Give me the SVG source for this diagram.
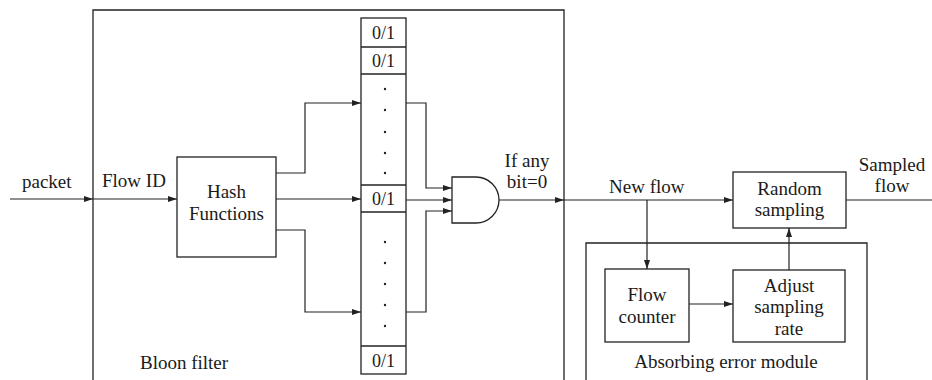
<svg xmlns="http://www.w3.org/2000/svg" width="932" height="380" viewBox="0 0 932 380">
<style>
.b{fill:none;stroke:#222;stroke-width:1.3}
.l{fill:none;stroke:#222;stroke-width:1.2}
text{font-family:"Liberation Serif","Times New Roman",serif;font-size:19px;fill:#1a1a1a}
.c{text-anchor:middle}
.d{fill:#222}
</style>
<defs>
<marker id="a" markerWidth="9" markerHeight="6" refX="9" refY="3" orient="auto" markerUnits="userSpaceOnUse">
<path d="M0,0 L9,3 L0,6 z" fill="#222"/>
</marker>
</defs>
<rect width="932" height="380" fill="#fff"/>

<g id="bloom-filter">
<path class="b" d="M93,380 V10 H564 V380"/>
<text x="140" y="369">Bloon filter</text>
</g>

<g id="hash-functions">
<rect class="b" x="177" y="157" width="99" height="100"/>
<text class="c" x="226.5" y="198">Hash</text>
<text class="c" x="226.5" y="220">Functions</text>
</g>

<g id="bit-array">
<rect class="b" x="361" y="18" width="45" height="356"/>
<line class="b" x1="361" y1="47" x2="406" y2="47"/>
<line class="b" x1="361" y1="74" x2="406" y2="74"/>
<line class="b" x1="361" y1="185" x2="406" y2="185"/>
<line class="b" x1="361" y1="212" x2="406" y2="212"/>
<line class="b" x1="361" y1="346" x2="406" y2="346"/>
<text class="c" x="383.5" y="39" style="font-size:18px">0/1</text>
<text class="c" x="383.5" y="67" style="font-size:18px">0/1</text>
<text class="c" x="383.5" y="205" style="font-size:18px">0/1</text>
<text class="c" x="383.5" y="367" style="font-size:18px">0/1</text>
<circle class="d" cx="385" cy="89" r="1.2"/>
<circle class="d" cx="385" cy="110" r="1.2"/>
<circle class="d" cx="385" cy="132" r="1.2"/>
<circle class="d" cx="385" cy="153" r="1.2"/>
<circle class="d" cx="385" cy="173" r="1.2"/>
<circle class="d" cx="385" cy="242" r="1.2"/>
<circle class="d" cx="385" cy="263" r="1.2"/>
<circle class="d" cx="385" cy="284" r="1.2"/>
<circle class="d" cx="385" cy="305" r="1.2"/>
<circle class="d" cx="385" cy="326" r="1.2"/>
</g>

<g id="and-gate">
<path class="b" d="M452,177 H476 A23,23 0 0 1 476,223 H452 Z"/>
</g>

<g id="random-sampling">
<rect class="b" x="733" y="172" width="113" height="56"/>
<text class="c" x="789.5" y="195">Random</text>
<text class="c" x="789.5" y="216">sampling</text>
</g>

<g id="absorbing-error-module">
<path class="b" d="M586,380 V243 H867 V380"/>
<text class="c" x="726" y="368">Absorbing error module</text>
</g>

<g id="flow-counter">
<rect class="b" x="605" y="269" width="84" height="73"/>
<text class="c" x="647" y="301">Flow</text>
<text class="c" x="647" y="323">counter</text>
</g>

<g id="adjust-sampling-rate">
<rect class="b" x="733" y="270" width="112" height="72"/>
<text class="c" x="789" y="292">Adjust</text>
<text class="c" x="789" y="313">sampling</text>
<text class="c" x="789" y="335">rate</text>
</g>

<g id="labels">
<text x="22" y="188">packet</text>
<text x="102" y="187">Flow ID</text>
<text class="c" x="527" y="167">If any</text>
<text class="c" x="527" y="188">bit=0</text>
<text x="609" y="193">New flow</text>
<text class="c" x="892" y="171">Sampled</text>
<text class="c" x="892" y="192">flow</text>
</g>

<g id="connectors">
<path class="l" d="M10,199 H93" marker-end="url(#a)"/>
<path class="l" d="M93,199 H177" marker-end="url(#a)"/>
<path class="l" d="M276,173 H305 V103 H361" marker-end="url(#a)"/>
<path class="l" d="M276,199 H361" marker-end="url(#a)"/>
<path class="l" d="M276,230 H305 V312 H361" marker-end="url(#a)"/>
<path class="l" d="M406,103 H426 V188 H452" marker-end="url(#a)"/>
<path class="l" d="M406,200 H452" marker-end="url(#a)"/>
<path class="l" d="M406,312 H426 V211 H452" marker-end="url(#a)"/>
<path class="l" d="M499,200 H564" marker-end="url(#a)"/>
<path class="l" d="M564,200 H733" marker-end="url(#a)"/>
<path class="l" d="M846,200 H932"/>
<path class="l" d="M647,200 V269" marker-end="url(#a)"/>
<path class="l" d="M689,304 H733" marker-end="url(#a)"/>
<path class="l" d="M789,270 V228" marker-end="url(#a)"/>
</g>
</svg>
